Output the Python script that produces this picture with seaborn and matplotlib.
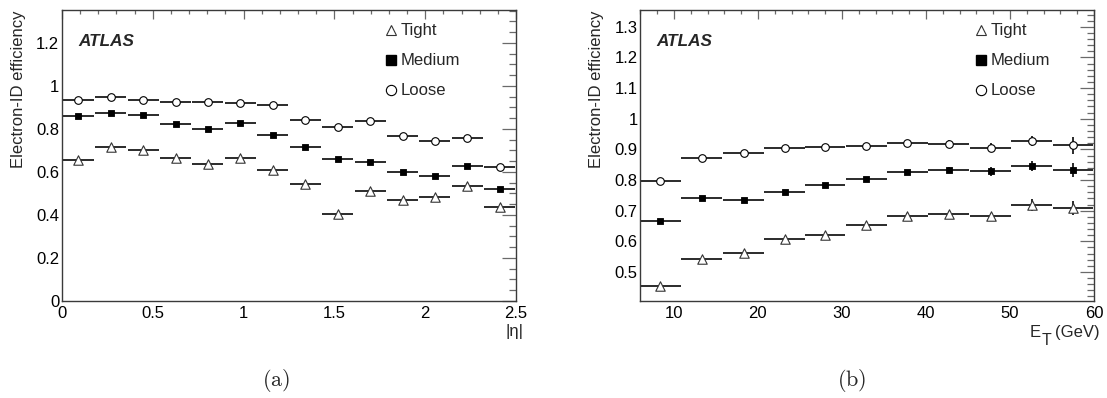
import numpy as np
import pandas as pd
import matplotlib
matplotlib.use("Agg")
import matplotlib.pyplot as plt
from matplotlib.ticker import MultipleLocator, FuncFormatter
from matplotlib.lines import Line2D
import seaborn as sns

# ---------------- data ----------------
# (a) efficiency vs |eta| (14 uniform bins from 0 to 2.5)
eta_edges = np.linspace(0, 2.5, 15)
eta_centers = 0.5 * (eta_edges[:-1] + eta_edges[1:])
eta_tight = [0.657, 0.714, 0.704, 0.665, 0.637, 0.665, 0.611, 0.545, 0.403, 0.511, 0.468, 0.483, 0.535, 0.437]
eta_medium = [0.860, 0.875, 0.863, 0.823, 0.800, 0.826, 0.770, 0.718, 0.662, 0.645, 0.600, 0.582, 0.627, 0.522]
eta_loose = [0.936, 0.947, 0.936, 0.926, 0.926, 0.921, 0.910, 0.840, 0.810, 0.836, 0.767, 0.744, 0.756, 0.622]
eta_err_tight = [0.003, 0.003, 0.003, 0.003, 0.003, 0.003, 0.003, 0.004, 0.004, 0.004, 0.004, 0.005, 0.008, 0.006]
eta_err_medium = [0.003, 0.003, 0.003, 0.003, 0.003, 0.003, 0.003, 0.004, 0.004, 0.004, 0.004, 0.005, 0.010, 0.010]
eta_err_loose = [0.002, 0.002, 0.002, 0.002, 0.002, 0.002, 0.002, 0.003, 0.003, 0.003, 0.003, 0.004, 0.010, 0.006]

# (b) efficiency vs E_T
et_centers = [8.4, 13.3, 18.3, 23.2, 28.0, 32.9, 37.8, 42.7, 47.7, 52.6, 57.5]
et_tight = [0.454, 0.543, 0.561, 0.608, 0.619, 0.652, 0.684, 0.690, 0.682, 0.719, 0.709]
et_medium = [0.665, 0.740, 0.734, 0.760, 0.784, 0.802, 0.825, 0.833, 0.829, 0.846, 0.832]
et_loose = [0.796, 0.871, 0.888, 0.904, 0.909, 0.910, 0.921, 0.919, 0.906, 0.928, 0.914]
et_err_tight = [0.004, 0.004, 0.004, 0.004, 0.005, 0.005, 0.007, 0.008, 0.011, 0.019, 0.023]
et_err_medium = [0.003, 0.003, 0.003, 0.004, 0.005, 0.006, 0.008, 0.011, 0.015, 0.016, 0.023]
et_err_loose = [0.003, 0.003, 0.003, 0.004, 0.005, 0.006, 0.008, 0.010, 0.014, 0.016, 0.028]

labels = ["Tight", "Medium", "Loose"]

# ---------------- style ----------------
sns.set_style("white")
plt.rcParams["font.family"] = ["Liberation Sans", "DejaVu Sans"]

FS = 12
styles = {
    "Tight": dict(marker="^", s=6.8 ** 2, facecolor="white", edgecolor="#333333", linewidth=0.8),
    "Medium": dict(marker="s", s=5.0 ** 2, facecolor="black", edgecolor="black", linewidth=0.6),
    "Loose": dict(marker="o", s=5.5 ** 2, facecolor="white", edgecolor="black", linewidth=0.8),
}
leg_styles = {
    "Tight": dict(marker="^", markersize=7.4, markerfacecolor="white", markeredgecolor="#333333", markeredgewidth=0.8),
    "Medium": dict(marker="s", markersize=6.7, markerfacecolor="black", markeredgecolor="black"),
    "Loose": dict(marker="o", markersize=7.4, markerfacecolor="white", markeredgecolor="black", markeredgewidth=0.8),
}

fig = plt.figure(figsize=(11.07, 3.98), dpi=100)
W, H = 1107.0, 398.0
axA = fig.add_axes([62 / W, 1 - 301 / H, 454 / W, 291 / H])
axB = fig.add_axes([640.3 / W, 1 - 301 / H, 453.7 / W, 291 / H])

fmt = FuncFormatter(lambda v, p: "%g" % round(v, 6))


def draw(ax, x, series, errs, xerr):
    for lab, y, e in zip(labels, series, errs):
        ax.errorbar(x, y, xerr=xerr, yerr=e, fmt="none", ecolor="#1a1a1a",
                    elinewidth=1.3, capsize=0, zorder=2)
        df = pd.DataFrame({"x": x, "y": y})
        sns.scatterplot(data=df, x="x", y="y", ax=ax, zorder=3, legend=False, **styles[lab])
    ax.set_xlabel("")
    ax.set_ylabel("")


def style_axes(ax):
    for sp in ax.spines.values():
        sp.set_color("#3a3a3a")
        sp.set_linewidth(1.0)
    ax.tick_params(which="both", direction="in", top=True, right=True,
                   color="#6a6a6a", width=0.9, labelsize=FS, labelcolor="black")
    ax.tick_params(axis="y", which="major", length=10, pad=2)
    ax.tick_params(axis="y", which="minor", length=5)
    ax.tick_params(axis="x", which="major", length=6.5, pad=3.5)
    ax.tick_params(axis="x", which="minor", length=3.2)
    ax.xaxis.set_major_formatter(fmt)
    ax.yaxis.set_major_formatter(fmt)


# ---- panel (a)
draw(axA, eta_centers, [eta_tight, eta_medium, eta_loose],
     [eta_err_tight, eta_err_medium, eta_err_loose], 0.085)
axA.set_xlim(0, 2.5)
axA.set_ylim(0, 1.353)
axA.xaxis.set_major_locator(MultipleLocator(0.5))
axA.xaxis.set_minor_locator(MultipleLocator(0.1))
axA.yaxis.set_major_locator(MultipleLocator(0.2))
axA.yaxis.set_minor_locator(MultipleLocator(0.05))
style_axes(axA)

# ---- panel (b)
draw(axB, et_centers, [et_tight, et_medium, et_loose],
     [et_err_tight, et_err_medium, et_err_loose], 2.42)
axB.set_xlim(6, 60)
axB.set_ylim(0.405, 1.355)
axB.xaxis.set_major_locator(MultipleLocator(10))
axB.xaxis.set_minor_locator(MultipleLocator(2))
axB.yaxis.set_major_locator(MultipleLocator(0.1))
axB.yaxis.set_minor_locator(MultipleLocator(0.02))
style_axes(axB)

# labels
for ax, lx in [(axA, -0.0969), (axB, -0.0976)]:
    ax.set_ylabel("Electron-ID efficiency", fontsize=FS, loc="top", va="center")
    ax.yaxis.set_label_coords(lx, 1.0)
    ax.text(0.0355, 0.891, "ATLAS", transform=ax.transAxes, fontsize=12.3,
            fontweight="bold", fontstyle="italic", ha="left", va="center")

axA.set_xlabel("|η|", fontsize=FS, ha="center", va="center")
axA.xaxis.set_label_coords(0.9956, -0.1065)

# E_T (GeV) label built from pieces (large, low subscript as in the reference)
axB.text(0.859, -0.1227, "E", transform=axB.transAxes, fontsize=FS, ha="left", va="baseline")
axB.text(0.8835, -0.150, "T", transform=axB.transAxes, fontsize=FS * 0.95, ha="left", va="baseline")
axB.text(1.0132, -0.1227, "(GeV)", transform=axB.transAxes, fontsize=FS, ha="right", va="baseline")

# legends
for ax, lx in [(axA, 0.710), (axB, 0.7355)]:
    handles = [Line2D([], [], linestyle="none", **leg_styles[l]) for l in labels]
    ax.legend(handles, labels, loc="upper left", bbox_to_anchor=(lx, 0.954),
              frameon=False, fontsize=FS, handlelength=0.8, handletextpad=0.2,
              labelspacing=0.9, borderpad=0, borderaxespad=0)

# sub-captions
fig.text(276 / W, 1 - 380 / H, r"$\mathrm{(a)}$", fontsize=16, ha="center", va="center",
         math_fontfamily="cm")
fig.text(852 / W, 1 - 380 / H, r"$\mathrm{(b)}$", fontsize=16, ha="center", va="center",
         math_fontfamily="cm")

fig.savefig("out.png", dpi=100)
